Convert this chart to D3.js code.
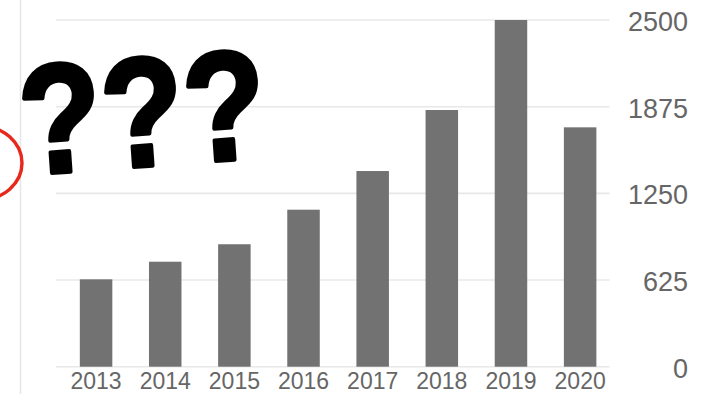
<!DOCTYPE html>
<html>
<head>
<meta charset="utf-8">
<script src="https://cdn.jsdelivr.net/npm/d3@7"></script>
<style>
  html, body { margin: 0; padding: 0; background: #fff; }
  svg { display: block; }
</style>
</head>
<body>
<svg id="chart" width="717" height="394"></svg>
<script>
const categories = ["2013", "2014", "2015", "2016", "2017", "2018", "2019", "2020"];
const values = [630, 757, 883, 1132, 1411, 1851, 2500, 1726];
const yTicks = [0, 625, 1250, 1875, 2500];
const annotation = ["?", "?", "?"];

const svg = d3.select("#chart");
const W = 717, H = 394;

const x = d3.scaleBand()
  .domain(categories)
  .range([61.5, 614.7])
  .paddingInner(0.53)
  .paddingOuter(0.265);

const y = d3.scaleLinear()
  .domain([0, 2500])
  .range([366.7, 20]);

// left vertical divider
svg.append("line")
  .attr("x1", 20.5).attr("x2", 20.5)
  .attr("y1", 0).attr("y2", H)
  .attr("stroke", "#e6e6e6").attr("stroke-width", 1.5);

// gridlines
svg.append("g").selectAll("line")
  .data(yTicks)
  .join("line")
  .attr("x1", 56).attr("x2", 609.5)
  .attr("y1", d => y(d)).attr("y2", d => y(d))
  .attr("stroke", "#e8e8e8").attr("stroke-width", 1.6);

// bars
svg.append("g").selectAll("rect")
  .data(values)
  .join("rect")
  .attr("x", (d, i) => x(categories[i]))
  .attr("width", x.bandwidth())
  .attr("y", d => y(d))
  .attr("height", d => y(0) - y(d))
  .attr("fill", "#727272");

// y axis labels on right
const yAxis = d3.axisRight(y).tickValues(yTicks).tickFormat(d3.format("d")).tickSize(0).tickPadding(0);
const gy = svg.append("g").attr("transform", "translate(688,2)").call(yAxis);
gy.select(".domain").remove();
gy.selectAll("text")
  .attr("text-anchor", "end")
  .attr("fill", "#666")
  .style("font-family", "Liberation Sans, Arial, sans-serif")
  .style("font-size", "27px");

// x axis labels
const xAxis = d3.axisBottom(x).tickSize(0).tickPadding(0);
const gx = svg.append("g").attr("transform", "translate(0,373)").call(xAxis);
gx.select(".domain").remove();
gx.selectAll("text")
  .attr("dy", "0.71em")
  .attr("fill", "#666")
  .style("font-family", "Liberation Sans, Arial, sans-serif")
  .style("font-size", "23px");

// red circle annotation (partial, at left edge)
svg.append("ellipse")
  .attr("cx", -20).attr("cy", 163)
  .attr("rx", 42).attr("ry", 37)
  .attr("fill", "none")
  .attr("stroke", "#e8281a")
  .attr("stroke-width", 3.4);

// question marks
const qx = [64, 146, 228];
const qy = [172, 166, 160];
svg.append("g").selectAll("text")
  .data(annotation)
  .join("text")
  .attr("x", 0)
  .attr("y", 0)
  .attr("text-anchor", "middle")
  .attr("transform", (d, i) => `translate(${qx[i]}, ${qy[i]}) rotate(-4) scale(0.9, 1.04)`)
  .attr("fill", "#000")
  .attr("stroke", "#000")
  .attr("stroke-width", 4)
  .attr("stroke-linejoin", "round")
  .style("font-family", "Liberation Sans, Arial, sans-serif")
  .style("font-weight", "bold")
  .style("font-size", "150px")
  .text(d => d);
</script>
</body>
</html>
